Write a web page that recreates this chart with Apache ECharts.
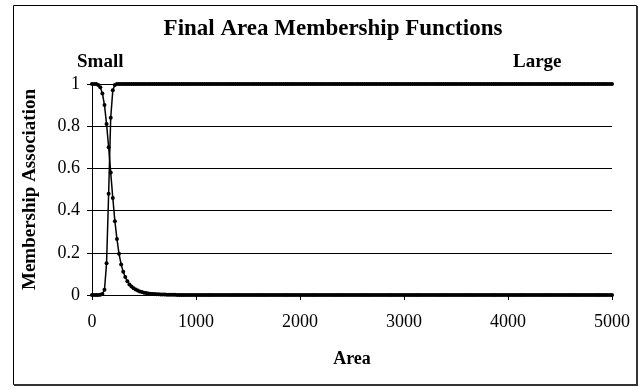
<!DOCTYPE html>
<html>
<head>
<meta charset="utf-8">
<script src="https://cdn.jsdelivr.net/npm/echarts@6/dist/echarts.min.js"></script>
<style>
  html, body { margin: 0; padding: 0; background: #fff; }
  #chart { width: 643px; height: 388px; }
</style>
</head>
<body>
<div id="chart"></div>
<script>
// Area sample points (step 20 from 0 to 5000)
const areaValues = [
  0,20,40,60,80,100,120,140,160,180,
  200,220,240,260,280,300,320,340,360,380,
  400,420,440,460,480,500,520,540,560,580,
  600,620,640,660,680,700,720,740,760,780,
  800,820,840,860,880,900,920,940,960,980,
  1000,1020,1040,1060,1080,1100,1120,1140,1160,1180,
  1200,1220,1240,1260,1280,1300,1320,1340,1360,1380,
  1400,1420,1440,1460,1480,1500,1520,1540,1560,1580,
  1600,1620,1640,1660,1680,1700,1720,1740,1760,1780,
  1800,1820,1840,1860,1880,1900,1920,1940,1960,1980,
  2000,2020,2040,2060,2080,2100,2120,2140,2160,2180,
  2200,2220,2240,2260,2280,2300,2320,2340,2360,2380,
  2400,2420,2440,2460,2480,2500,2520,2540,2560,2580,
  2600,2620,2640,2660,2680,2700,2720,2740,2760,2780,
  2800,2820,2840,2860,2880,2900,2920,2940,2960,2980,
  3000,3020,3040,3060,3080,3100,3120,3140,3160,3180,
  3200,3220,3240,3260,3280,3300,3320,3340,3360,3380,
  3400,3420,3440,3460,3480,3500,3520,3540,3560,3580,
  3600,3620,3640,3660,3680,3700,3720,3740,3760,3780,
  3800,3820,3840,3860,3880,3900,3920,3940,3960,3980,
  4000,4020,4040,4060,4080,4100,4120,4140,4160,4180,
  4200,4220,4240,4260,4280,4300,4320,4340,4360,4380,
  4400,4420,4440,4460,4480,4500,4520,4540,4560,4580,
  4600,4620,4640,4660,4680,4700,4720,4740,4760,4780,
  4800,4820,4840,4860,4880,4900,4920,4940,4960,4980,
  5000
];

// Membership in "Small"
const smallMembership = [
  1,1,1,0.995,0.985,0.955,0.9,0.81,0.7,0.58,
  0.46,0.35,0.265,0.195,0.145,0.11,0.085,0.065,0.05,0.04,
  0.032,0.026,0.021,0.017,0.014,0.011,0.009,0.0075,0.0062,0.0052,
  0.0044,0.0037,0.0031,0.0027,0.0023,0.002,0.0017,0.0015,0.0013,0.0011,
  0.001,0,0,0,0,0,0,0,0,0,
  0,0,0,0,0,0,0,0,0,0,
  0,0,0,0,0,0,0,0,0,0,
  0,0,0,0,0,0,0,0,0,0,
  0,0,0,0,0,0,0,0,0,0,
  0,0,0,0,0,0,0,0,0,0,
  0,0,0,0,0,0,0,0,0,0,
  0,0,0,0,0,0,0,0,0,0,
  0,0,0,0,0,0,0,0,0,0,
  0,0,0,0,0,0,0,0,0,0,
  0,0,0,0,0,0,0,0,0,0,
  0,0,0,0,0,0,0,0,0,0,
  0,0,0,0,0,0,0,0,0,0,
  0,0,0,0,0,0,0,0,0,0,
  0,0,0,0,0,0,0,0,0,0,
  0,0,0,0,0,0,0,0,0,0,
  0,0,0,0,0,0,0,0,0,0,
  0,0,0,0,0,0,0,0,0,0,
  0,0,0,0,0,0,0,0,0,0,
  0,0,0,0,0,0,0,0,0,0,
  0,0,0,0,0,0,0,0,0,0,
  0
];

// Membership in "Large"
const largeMembership = [
  0,0,0,0,0.001,0.005,0.025,0.15,0.48,0.84,
  0.97,0.995,1,1,1,1,1,1,1,1,
  1,1,1,1,1,1,1,1,1,1,
  1,1,1,1,1,1,1,1,1,1,
  1,1,1,1,1,1,1,1,1,1,
  1,1,1,1,1,1,1,1,1,1,
  1,1,1,1,1,1,1,1,1,1,
  1,1,1,1,1,1,1,1,1,1,
  1,1,1,1,1,1,1,1,1,1,
  1,1,1,1,1,1,1,1,1,1,
  1,1,1,1,1,1,1,1,1,1,
  1,1,1,1,1,1,1,1,1,1,
  1,1,1,1,1,1,1,1,1,1,
  1,1,1,1,1,1,1,1,1,1,
  1,1,1,1,1,1,1,1,1,1,
  1,1,1,1,1,1,1,1,1,1,
  1,1,1,1,1,1,1,1,1,1,
  1,1,1,1,1,1,1,1,1,1,
  1,1,1,1,1,1,1,1,1,1,
  1,1,1,1,1,1,1,1,1,1,
  1,1,1,1,1,1,1,1,1,1,
  1,1,1,1,1,1,1,1,1,1,
  1,1,1,1,1,1,1,1,1,1,
  1,1,1,1,1,1,1,1,1,1,
  1,1,1,1,1,1,1,1,1,1,
  1
];

const xTicks = [0, 1000, 2000, 3000, 4000, 5000];
const yTicks = [0, 0.2, 0.4, 0.6, 0.8, 1];

const serif = '"Liberation Serif", "Times New Roman", serif';

function pairs(ys) {
  return areaValues.map((x, i) => [x, ys[i]]);
}

const chart = echarts.init(document.getElementById('chart'), null, { renderer: 'canvas' });

const lineSeries = (name, ys) => ({
  name: name,
  type: 'line',
  data: pairs(ys),
  symbol: 'circle',
  symbolSize: 4,
  showSymbol: true,
  showAllSymbol: true,
  lineStyle: { color: '#000', width: 1.5 },
  itemStyle: { color: '#000', borderWidth: 0 },
  silent: true
});

chart.setOption({
  animation: false,
  backgroundColor: '#fff',
  title: {
    text: 'Final Area Membership Functions',
    left: 328,
    top: 13,
    textAlign: 'center',
    textStyle: { fontFamily: serif, fontSize: 23, fontWeight: 'bold', color: '#000' }
  },
  grid: { left: 92, right: 31, top: 84, bottom: 93, containLabel: false },
  xAxis: {
    type: 'value',
    min: xTicks[0],
    max: xTicks[xTicks.length - 1],
    interval: 1000,
    name: 'Area',
    nameLocation: 'middle',
    nameGap: 55,
    nameTextStyle: { fontFamily: serif, fontSize: 18, fontWeight: 'bold', color: '#000' },
    axisLine: { lineStyle: { color: '#000', width: 1 } },
    axisTick: { show: true, inside: false, length: 5, lineStyle: { color: '#000' } },
    axisLabel: {
      fontFamily: serif, fontSize: 18, color: '#000', margin: 18,
      formatter: v => String(v)
    },
    splitLine: { show: false }
  },
  yAxis: {
    type: 'value',
    min: yTicks[0],
    max: yTicks[yTicks.length - 1],
    interval: 0.2,
    name: 'Membership Association',
    nameLocation: 'middle',
    nameGap: 52,
    nameRotate: 90,
    nameTextStyle: { fontFamily: serif, fontSize: 19, fontWeight: 'bold', color: '#000' },
    axisLine: { show: true, lineStyle: { color: '#000', width: 1 } },
    axisTick: { show: true, inside: false, length: 5, lineStyle: { color: '#000' } },
    axisLabel: {
      fontFamily: serif, fontSize: 18, color: '#000', margin: 12,
      formatter: v => String(Math.round(v * 10) / 10)
    },
    splitLine: { show: true, lineStyle: { color: '#000', width: 1 } }
  },
  graphic: [
    {
      type: 'rect',
      shape: { x: 13.5, y: 5.5, width: 623, height: 379 },
      style: { fill: 'none', stroke: '#000', lineWidth: 1 },
      silent: true
    },
    {
      type: 'line',
      shape: { x1: 637, y1: 6, x2: 637, y2: 385.5 },
      style: { stroke: '#333', lineWidth: 2 },
      silent: true
    },
    {
      type: 'line',
      shape: { x1: 14, y1: 385, x2: 638, y2: 385 },
      style: { stroke: '#333', lineWidth: 2 },
      silent: true
    },
    {
      type: 'text',
      left: 77,
      top: 53,
      style: { text: 'Small', font: 'bold 19px ' + serif, fill: '#000' },
      silent: true
    },
    {
      type: 'text',
      left: 513,
      top: 53,
      style: { text: 'Large', font: 'bold 19px ' + serif, fill: '#000' },
      silent: true
    }
  ],
  series: [
    lineSeries('Small', smallMembership),
    lineSeries('Large', largeMembership)
  ]
});
</script>
</body>
</html>
